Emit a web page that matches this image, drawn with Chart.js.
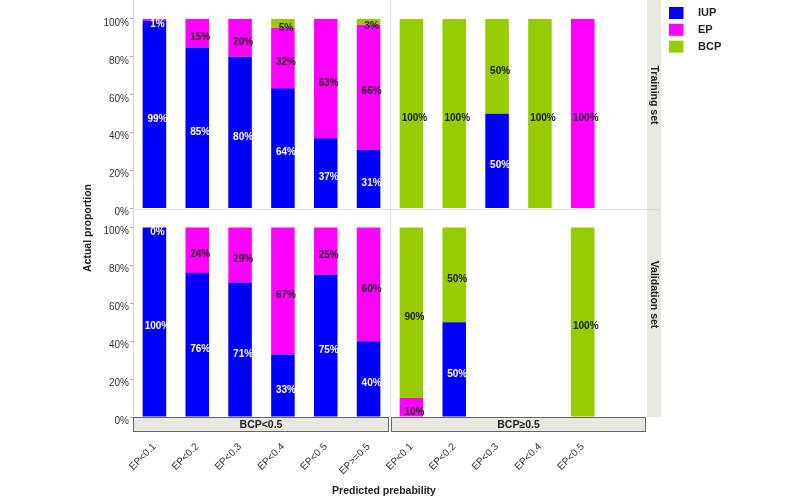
<!DOCTYPE html>
<html>
<head>
<meta charset="utf-8">
<title>Actual proportion by predicted probability</title>
<script src="https://cdn.jsdelivr.net/npm/chart.js@4.4.1/dist/chart.umd.min.js"></script>
<style>
  html, body { margin: 0; padding: 0; background: #fff; }
  #wrap { width: 800px; height: 499px; }
</style>
</head>
<body>
<div id="wrap"><canvas id="chart" width="800" height="499"></canvas></div>
<script>
// ===== DATA =====
// 12 slots: 6 for BCP<0.5, 6 for BCP>=0.5 (last one has no data)
const categories = ['EP<0.1', 'EP<0.2', 'EP<0.3', 'EP<0.4', 'EP<0.5', 'EP>=0.5',
                    'EP<0.1', 'EP<0.2', 'EP<0.3', 'EP<0.4', 'EP<0.5', ''];
const groupLabels = ['BCP<0.5', 'BCP≥0.5'];
const rowLabels = ['Training set', 'Validation set'];
const seriesNames = ['IUP', 'EP', 'BCP'];

const trainIUP = [99, 85, 80, 63.5, 37, 31,   null, null, 50, null, null, null];
const trainEP  = [1, 15, 20, 31.9, 63, 66,    null, null, null, null, 100, null];
const trainBCP = [null, null, null, 4.6, null, 3, 100, 100, 50, 100, null, null];

const valIUP = [100, 76, 71, 33, 75, 40,      null, 50, null, null, null, null];
const valEP  = [0, 24, 29, 67, 25, 60,        10, null, null, null, null, null];
const valBCP = [null, null, null, null, null, null, 90, 50, null, null, 100, null];

// ===== STYLE =====
const COLORS = { IUP: '#0000ff', EP: '#ff00ff', BCP: '#99cc00' };
const FONT = '"Liberation Sans", Arial, Helvetica, sans-serif';
const STRIP_FILL = '#e8e8e0';
const SEP_COLOR = '#dedede';

// =====================
//   DATASETS
// =====================
function makeSet(name, data, axis) {
  return {
    label: name,
    data: data,
    yAxisID: axis,
    stack: 'all',
    backgroundColor: COLORS[name],
    borderWidth: 0,
    barPercentage: 0.55,
    categoryPercentage: 1
  };
}

const datasets = [
  makeSet('IUP', trainIUP, 'yTrain'),
  makeSet('EP', trainEP, 'yTrain'),
  makeSet('BCP', trainBCP, 'yTrain'),
  makeSet('IUP', valIUP, 'yVal'),
  makeSet('EP', valEP, 'yVal'),
  makeSet('BCP', valBCP, 'yVal')
];

function yAxis() {
  return {
    type: 'linear',
    position: 'left',
    stack: 'rows',
    stackWeight: 1,
    stacked: true,
    min: 0,
    max: 110,
    afterBuildTicks: s => { s.ticks = s.ticks.filter(t => t.value <= 100); },
    afterFit: s => { s.width = 133; s.paddingTop = 0; s.paddingBottom = 0; },
    ticks: {
      stepSize: 10,
      includeBounds: false,
      padding: 1,
      labelOffset: 4,
      color: '#333',
      font: { family: FONT, size: 10 },
      callback: v => (v % 20 === 0 ? v + '%' : '')
    },
    grid: { drawOnChartArea: false, tickLength: 3, tickColor: '#aaa' },
    border: { color: '#d4d4d4' }
  };
}

// =====================
//   FACET DECORATION
// =====================
const facetPlugin = {
  id: 'facets',
  beforeDatasetsDraw(chart) {
    const { ctx, chartArea, scales } = chart;
    const xs = scales.x;
    const splitX = (xs.getPixelForValue(5) + xs.getPixelForValue(6)) / 2;
    const splitY = scales.yTrain.getPixelForValue(0);
    ctx.save();
    ctx.strokeStyle = SEP_COLOR;
    ctx.lineWidth = 1;
    ctx.beginPath();
    ctx.moveTo(Math.round(splitX) + 0.5, chartArea.top);
    ctx.lineTo(Math.round(splitX) + 0.5, chartArea.bottom);
    ctx.moveTo(chartArea.left, Math.round(splitY) + 0.5);
    ctx.lineTo(chartArea.right + 14, Math.round(splitY) + 0.5);
    ctx.stroke();
    ctx.restore();
  },
  afterDatasetsDraw(chart) {
    const ctx = chart.ctx;
    ctx.save();
    ctx.font = 'bold 10px ' + FONT;
    ctx.textAlign = 'center';
    ctx.textBaseline = 'middle';
    chart.data.datasets.forEach((ds, i) => {
      const meta = chart.getDatasetMeta(i);
      meta.data.forEach((bar, j) => {
        const v = ds.data[j];
        if (v === null || v === undefined) return;
        const cy = (bar.y + bar.base) / 2 + 4.5;
        ctx.fillStyle = (ds.label === 'IUP' || v < 2) ? '#ffffff' : '#1a1a1a';
        ctx.fillText(Math.round(v) + '%', bar.x + 3, cy);
      });
    });
    ctx.restore();
  },
  afterDraw(chart) {
    const { ctx, chartArea, scales } = chart;
    const xs = scales.x;
    const splitX = (xs.getPixelForValue(5) + xs.getPixelForValue(6)) / 2;
    const splitY = scales.yTrain.getPixelForValue(0);
    ctx.save();

    // right strip (row labels)
    const sx = chartArea.right;
    ctx.fillStyle = STRIP_FILL;
    ctx.fillRect(sx, chartArea.top, 14, chartArea.bottom - chartArea.top);
    ctx.strokeStyle = '#d8d8d0';
    ctx.beginPath();
    ctx.moveTo(sx, Math.round(splitY) + 0.5);
    ctx.lineTo(sx + 14, Math.round(splitY) + 0.5);
    ctx.stroke();
    ctx.fillStyle = '#222';
    ctx.font = 'bold 10.5px ' + FONT;
    ctx.textAlign = 'center';
    ctx.textBaseline = 'middle';
    [[rowLabels[0], scales.yTrain.top + 95], [rowLabels[1], scales.yVal.top + 86]].forEach(([t, y]) => {
      ctx.save();
      ctx.translate(sx + 7, y);
      ctx.rotate(Math.PI / 2);
      ctx.fillText(t, 0, 0);
      ctx.restore();
    });

    // bottom strips (group labels)
    const by = chartArea.bottom;
    const boxes = [[chartArea.left, splitX - 1], [splitX + 1, chartArea.right - 1]];
    boxes.forEach(([x0, x1], k) => {
      ctx.fillStyle = STRIP_FILL;
      ctx.fillRect(x0, by, x1 - x0, 15);
      ctx.strokeStyle = '#666';
      ctx.lineWidth = 1;
      ctx.strokeRect(Math.round(x0) + 0.5, by + 0.5, Math.round(x1 - x0) - 1, 14);
      ctx.fillStyle = '#222';
      ctx.fillText(groupLabels[k], (x0 + x1) / 2, by + 8);
    });

    // legend
    ctx.font = 'bold 11px ' + FONT;
    ctx.textAlign = 'left';
    seriesNames.forEach((n, k) => {
      const y = 7 + k * 16.8;
      ctx.fillStyle = COLORS[n];
      ctx.fillRect(669, y, 14.5, 12);
      ctx.fillStyle = '#222';
      ctx.fillText(n, 698, y + 6);
    });

    // axis titles
    ctx.font = 'bold 10.5px ' + FONT;
    ctx.textAlign = 'center';
    ctx.fillText('Predicted prebability', 384, 491);
    ctx.save();
    ctx.translate(88, 228);
    ctx.rotate(-Math.PI / 2);
    ctx.fillText('Actual proportion', 0, 0);
    ctx.restore();

    ctx.restore();
  }
};

// =====================
//   CHART
// =====================
new Chart(document.getElementById('chart'), {
  type: 'bar',
  data: { labels: categories, datasets: datasets },
  options: {
    responsive: false,
    animation: false,
    layout: { padding: { left: 0, right: 153, top: 0, bottom: 0 } },
    plugins: {
      legend: { display: false },
      tooltip: { enabled: true }
    },
    scales: {
      x: {
        type: 'category',
        stacked: true,
        offset: true,
        afterFit: s => { s.height = 82; },
        grid: { display: false },
        border: { display: false },
        ticks: {
          autoSkip: false,
          minRotation: 45,
          maxRotation: 45,
          padding: 16,
          color: '#333',
          font: { family: FONT, size: 10 }
        }
      },
      yVal: yAxis(),
      yTrain: yAxis()
    }
  },
  plugins: [facetPlugin]
});
</script>
</body>
</html>
